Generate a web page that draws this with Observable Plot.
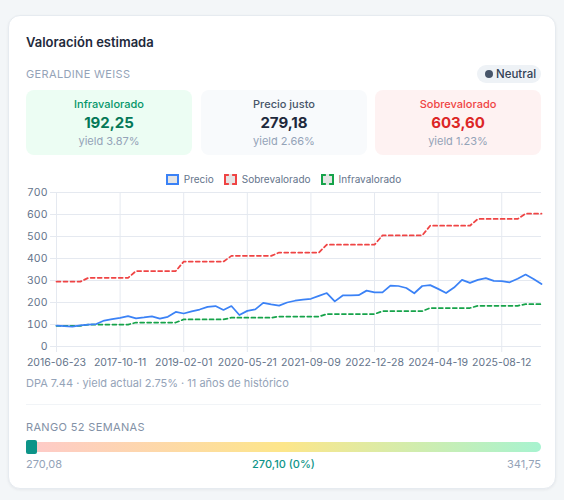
<!DOCTYPE html>
<html>
<head>
<meta charset="utf-8">
<script src="https://cdn.jsdelivr.net/npm/d3@7"></script>
<script src="https://cdn.jsdelivr.net/npm/@observablehq/plot@0.6"></script>
<style>
  html, body { margin: 0; padding: 0; }
  body { width: 564px; height: 500px; background: #f3f6f8; font-family: Inter, "Noto Sans", sans-serif; position: relative; overflow: hidden; }
  .card { position: absolute; left: 8px; top: 15px; width: 546px; height: 472px; background: #fff; border: 1px solid #e6ebf0; border-radius: 12px; box-shadow: 0 1px 3px rgba(15,23,42,0.06); }
  .abs { position: absolute; white-space: nowrap; }
  .title { left: 26px; top: 35px; font-size: 13px; line-height: 15px; font-weight: 600; color: #1e293b; }
  .method { left: 26px; top: 67px; font-size: 11px; line-height: 14px; color: #94a3b8; letter-spacing: 0.35px; }
  .badge { left: 477px; top: 65px; width: 64px; height: 18px; border-radius: 9px; background: #eef2f6; font-size: 11.5px; line-height: 18px; font-weight: 500; color: #334155; }
  .badge .dot { position: absolute; left: 8px; top: 5px; width: 8px; height: 8px; border-radius: 4px; background: #475569; }
  .badge .t { position: absolute; left: 19px; top: 0; }
  .box { position: absolute; top: 90px; height: 65px; border-radius: 8px; text-align: center; }
  .box .l { position: absolute; left: 0; right: 0; top: 7px; font-size: 11px; line-height: 14px; font-weight: 500; }
  .box .v { position: absolute; left: 0; right: 0; top: 23px; font-size: 15px; line-height: 20px; font-weight: 700; }
  .box .y { position: absolute; left: 0; right: 0; top: 44px; font-size: 11px; line-height: 14px; color: #94a3b8; }
  .legend { left: 26px; top: 172px; width: 515px; height: 14px; display: flex; justify-content: center; align-items: center; gap: 10px; font-size: 10px; color: #64748b; }
  .legend .item { display: flex; align-items: center; gap: 5px; }
  .legend .sw { width: 9px; height: 7px; background: rgba(0,0,0,0.1); }
  #chart { position: absolute; left: 26px; top: 186px; }
  .caption { left: 26px; top: 376px; font-size: 11px; line-height: 14px; color: #94a3b8; }
  .divider { position: absolute; left: 26px; top: 404px; width: 515px; height: 1px; background: #f1f4f7; }
  .range-t { left: 26px; top: 420px; font-size: 11px; line-height: 14px; color: #8291a6; letter-spacing: 0.35px; }
  .bar { position: absolute; left: 26px; top: 442px; width: 515px; height: 10px; border-radius: 5px; background: linear-gradient(90deg, #fecaca 0%, #fde68a 50%, #a7f3d0 100%); }
  .marker { position: absolute; left: 26px; top: 440px; width: 11px; height: 14px; border-radius: 2px; background: #0d9488; }
  .rl { top: 457px; font-size: 11px; line-height: 14px; color: #94a3b8; }
</style>
</head>
<body>
<div class="card"></div>
<div class="abs title">Valoración estimada</div>
<div class="abs method">GERALDINE WEISS</div>
<div class="abs badge"><span class="dot"></span><span class="t">Neutral</span></div>
<div class="box" style="left:26px;width:166px;background:#ecfdf3;">
  <div class="l" style="color:#059669">Infravalorado</div>
  <div class="v" style="color:#047857">192,25</div>
  <div class="y">yield 3.87%</div>
</div>
<div class="box" style="left:201px;width:166px;background:#f8fafc;">
  <div class="l" style="color:#475569">Precio justo</div>
  <div class="v" style="color:#1e293b">279,18</div>
  <div class="y">yield 2.66%</div>
</div>
<div class="box" style="left:375px;width:166px;background:#fef2f2;">
  <div class="l" style="color:#ef4444">Sobrevalorado</div>
  <div class="v" style="color:#dc2626">603,60</div>
  <div class="y">yield 1.23%</div>
</div>
<div class="abs legend" id="legend"></div>
<div id="chart"></div>
<div class="abs caption">DPA 7.44 · yield actual 2.75% · 11 años de histórico</div>
<div class="divider"></div>
<div class="abs range-t">RANGO 52 SEMANAS</div>
<div class="bar"></div>
<div class="marker"></div>
<div class="abs rl" style="left:26px">270,08</div>
<div class="abs rl" style="left:26px;width:515px;text-align:center;color:#0d9488;font-weight:500">270,10 (0%)</div>
<div class="abs rl" style="left:26px;width:515px;text-align:right">341,75</div>
<script>
const dates = [
  "2016-06-23","2016-08-22","2016-10-20","2016-12-19","2017-02-16","2017-04-17","2017-06-15","2017-08-14",
  "2017-10-11","2017-12-08","2018-02-07","2018-04-09","2018-06-06","2018-08-03","2018-10-02","2018-11-30",
  "2019-02-01","2019-04-02","2019-05-31","2019-07-30","2019-09-27","2019-11-25","2020-01-24","2020-03-23",
  "2020-05-21","2020-07-20","2020-09-17","2020-11-16","2021-01-14","2021-03-15","2021-05-13","2021-07-12",
  "2021-09-09","2021-11-05","2022-01-05","2022-03-07","2022-05-04","2022-07-01","2022-08-30","2022-10-28",
  "2022-12-28","2023-02-27","2023-04-27","2023-06-26","2023-08-24","2023-10-23","2023-12-20","2024-02-21",
  "2024-04-19","2024-06-18","2024-08-16","2024-10-15","2024-12-12","2025-02-13","2025-04-14","2025-06-12",
  "2025-08-12","2025-10-10","2025-12-09","2026-02-09","2026-04-09","2026-06-08"
];
const precio = [
  95, 93, 90, 96, 99, 102, 118, 124,
  130, 138, 128, 132, 137, 127, 135, 157,
  150, 160, 168, 180, 184, 166, 184, 143,
  162, 169, 198, 191, 186, 200, 208, 213,
  217, 230, 243, 205, 232, 232, 233, 254,
  246, 246, 277, 275, 266, 242, 275, 279,
  262, 243, 268, 303, 289, 303, 311, 298,
  297, 292, 308, 327, 307, 284
];
const sobrevalorado = [
  295, 295, 295, 295, 312, 312, 312, 312,
  312, 312, 343, 343, 343, 343, 343, 343,
  386, 386, 386, 386, 386, 386, 412, 412,
  412, 412, 412, 412, 427, 427, 427, 427,
  427, 427, 463, 463, 463, 463, 463, 463,
  463, 505, 505, 505, 505, 505, 505, 549,
  549, 549, 549, 549, 549, 580, 580, 580,
  580, 580, 580, 603.6, 603.6, 603.6
];
const infravalorado = [
  94, 94, 94, 94, 99.5, 99.5, 99.5, 99.5,
  99.5, 99.5, 109, 109, 109, 109, 109, 109,
  123, 123, 123, 123, 123, 123, 131, 131,
  131, 131, 131, 131, 136, 136, 136, 136,
  136, 136, 147.5, 147.5, 147.5, 147.5, 147.5, 147.5,
  147.5, 161, 161, 161, 161, 161, 161, 175,
  175, 175, 175, 175, 175, 185, 185, 185,
  185, 185, 185, 192.25, 192.25, 192.25
];
const tickDates = ["2016-06-23","2017-10-11","2019-02-01","2020-05-21","2021-09-09","2022-12-28","2024-04-19","2025-08-12"];
const yTicks = [0, 100, 200, 300, 400, 500, 600, 700];
const seriesNames = ["Precio", "Sobrevalorado", "Infravalorado"];
const seriesColors = ["#3b82f6", "#ef4444", "#16a34a"];
const seriesDash = [null, "4,3", "4,3"];

const rows = dates.map((d, i) => ({date: d, precio: precio[i], sobre: sobrevalorado[i], infra: infravalorado[i]}));
const grid = "#e5e9f0";

const chart = Plot.plot({
  width: 519,
  height: 184,
  marginLeft: 30,
  marginRight: 4,
  marginTop: 6,
  marginBottom: 24,
  style: {fontFamily: "Inter, sans-serif", fontSize: "10px", background: "transparent", overflow: "visible"},
  x: {type: "point", domain: dates, padding: 0},
  y: {domain: [0, 700]},
  marks: [
    Plot.ruleY(yTicks, {y: d => d, stroke: grid, strokeWidth: 1, insetLeft: -6}),
    Plot.ruleX(tickDates, {x: d => d, stroke: grid, strokeWidth: 1, insetBottom: -6}),
    Plot.axisY({ticks: yTicks, tickSize: 0, tickPadding: 9, color: "#64748b", label: null, fontSize: 10.5}),
    Plot.axisX({ticks: tickDates, tickSize: 0, tickPadding: 12, color: "#64748b", label: null, fontSize: 10.5}),
    Plot.line(rows, {x: "date", y: "infra", stroke: seriesColors[2], strokeWidth: 1.75, strokeDasharray: seriesDash[2]}),
    Plot.line(rows, {x: "date", y: "sobre", stroke: seriesColors[1], strokeWidth: 1.75, strokeDasharray: seriesDash[1]}),
    Plot.line(rows, {x: "date", y: "precio", stroke: seriesColors[0], strokeWidth: 1.75})
  ]
});
document.getElementById("chart").appendChild(chart);

const legend = document.getElementById("legend");
seriesNames.forEach((name, i) => {
  const item = document.createElement("div");
  item.className = "item";
  const sw = document.createElement("span");
  sw.className = "sw";
  sw.style.border = `2px ${seriesDash[i] ? "dashed" : "solid"} ${seriesColors[i]}`;
  const t = document.createElement("span");
  t.textContent = name;
  item.appendChild(sw);
  item.appendChild(t);
  legend.appendChild(item);
});
</script>
</body>
</html>
